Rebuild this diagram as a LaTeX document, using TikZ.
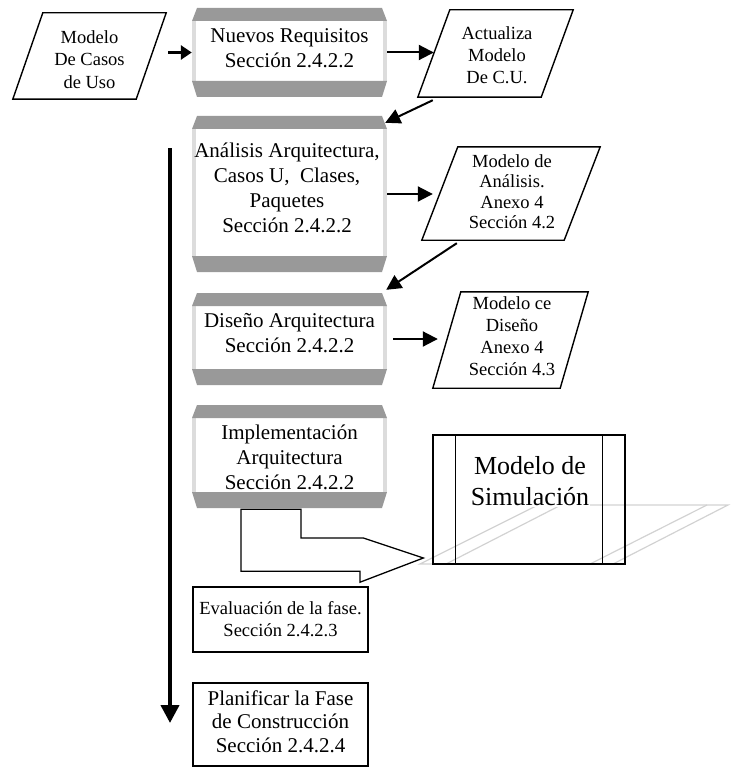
\documentclass[tikz,border=0pt]{standalone}
\usepackage{fontspec}
\setmainfont{Liberation Serif}
\usetikzlibrary{arrows.meta}
\definecolor{bandgray}{HTML}{999999}
\definecolor{sidegray}{HTML}{DCDCDC}
\definecolor{shadowgray}{HTML}{D2D2D2}

% outline of a slanted data box drawn round a named slot node
\newcommand\paraoutline[2]{%
  \draw[paraline] ([xshift=#2pt]#1.north west) -- (#1.north east)
    -- ([xshift=-#2pt]#1.south east) -- (#1.south west) -- cycle;}

\begin{document}
\begin{tikzpicture}[x=1pt,y=-1pt,
  bevelbox/.style={rectangle, inner sep=0pt, minimum width=195pt, minimum height=#1,
    path picture={
      \fill[sidegray] ([yshift=-13pt]path picture bounding box.north west)
        rectangle ([yshift=16pt]path picture bounding box.south east);
      \fill[white] ([xshift=4pt,yshift=-13pt]path picture bounding box.north west)
        rectangle ([xshift=-4pt,yshift=16pt]path picture bounding box.south east);
      \fill[bandgray] ([xshift=5pt]path picture bounding box.north west)
        -- ([xshift=-5pt]path picture bounding box.north east)
        -- ([yshift=-13pt]path picture bounding box.north east)
        -- ([yshift=-13pt]path picture bounding box.north west) -- cycle;
      \fill[bandgray] ([yshift=16pt]path picture bounding box.south west)
        -- ([yshift=16pt]path picture bounding box.south east)
        -- ([xshift=-5pt]path picture bounding box.south east)
        -- ([xshift=5pt]path picture bounding box.south west) -- cycle;
    }},
  slot/.style 2 args={rectangle, inner sep=0pt, minimum width=#1, minimum height=#2},
  paraline/.style={line width=1.4pt, line join=miter},
  boxtext/.style={align=center, inner sep=0pt, font=\fontsize{21}{25}\selectfont},
  paratext/.style={align=center, inner sep=0pt, font=\fontsize{18.5}{22}\selectfont},
  plainbox/.style={draw, line width=1.3pt, inner sep=0pt, align=center},
  link/.style={line width=2pt, -{Triangle[length=15pt,width=15pt]}},
]
\useasboundingbox (0,0) rectangle (734,773);

% ---- phase boxes with bevelled bands
\node[bevelbox=89pt]  (nuevos) at (289.5,52.5) {};
\node[boxtext] (nuevos-t) at (289.5,48) {Nuevos Requisitos\\Sección 2.4.2.2};

\node[bevelbox=156pt] (anal) at (289.5,194) {};
\node[boxtext] (anal-t) at (287,187.5) {Análisis Arquitectura,\\Casos U,\ \ Clases,\\Paquetes\\Sección 2.4.2.2};

\node[bevelbox=92pt]  (dis) at (289.5,339) {};
\node[boxtext] (dis-t) at (289.5,333.5) {Diseño Arquitectura\\Sección 2.4.2.2};

\node[bevelbox=103pt] (impl) at (289.5,456.5) {};
\node[boxtext] (impl-t) at (289.5,457) {Implementación\\Arquitectura\\Sección 2.4.2.2};

% ---- slanted data boxes
\node[slot={153pt}{86pt}] (mcu) at (89.5,56) {};
\paraoutline{mcu}{30}
\node[paratext, font=\fontsize{18.5}{22.5}\selectfont] (mcu-t) at (89.5,59.5) {Modelo\\De Casos\\de Uso};

\node[slot={155pt}{87pt}] (actu) at (495.5,53.5) {};
\paraoutline{actu}{32}
\node[paratext] (actu-t) at (497,55) {Actualiza\\Modelo\\De C.U.};

\node[slot={178pt}{93pt}] (pana) at (511,193.5) {};
\paraoutline{pana}{36}
\node[paratext, font=\fontsize{18.5}{20.5}\selectfont] (pana-t) at (512,191.5) {Modelo de\\Análisis.\\Anexo 4\\Sección 4.2};

\node[slot={155pt}{96pt}] (pdis) at (510.5,340) {};
\paraoutline{pdis}{28}
\node[paratext] (pdis-t) at (512,336) {Modelo ce\\Diseño\\Anexo 4\\Sección 4.3};

% ---- connectors between the boxes
\draw[line width=3.5pt, -{Triangle[length=11pt,width=14pt]}]
  ([xshift=2pt]mcu.east |- nuevos.west) -- (nuevos.west);
\draw[link] (nuevos.east) -- ([xshift=16pt]actu.west |- nuevos.east);
\draw[link] ([xshift=15pt,yshift=-3pt]actu.south west) -- ([xshift=-2pt,yshift=-7pt]anal.north east);
\draw[link] (anal.east) -- ([xshift=11pt]pana.west |- anal.east);
\draw[link] ([xshift=35pt,yshift=-3pt]pana.south west) -- ([xshift=-1pt,yshift=3pt]dis.north east);
\draw[link] ([xshift=6pt]dis.east) -- ([xshift=5pt]pdis.west |- dis.east);

% ---- long flow arrow on the left
\coordinate (flow-start) at (170,148);
\coordinate (flow-end) at (170,723);
\draw[line width=4pt, -{Triangle[length=18pt,width=18pt]}] (flow-start) -- (flow-end);

% ---- simulation model: ground plane lines, box, label
\draw[shadowgray, line width=1.2pt] (420,564) -- (538,505) -- (728,505) -- (613,564) -- cycle;
\draw[shadowgray, line width=1.2pt] (446,564) -- (561,505);
\draw[shadowgray, line width=1.2pt] (590,564) -- (707,505);
\node[slot={192pt}{129pt}, draw, line width=1.3pt] (sim) at (529,499.5) {};
\draw[line width=1.3pt] ([xshift=23pt]sim.north west) -- ([xshift=23pt]sim.south west);
\draw[line width=1.3pt] ([xshift=-23pt]sim.north east) -- ([xshift=-23pt]sim.south east);
\node[fill=white, inner sep=1pt, align=center, font=\fontsize{26}{31}\selectfont] (sim-t) at (530,481) {Modelo de\\Simulación};

% ---- hollow arrow from implementation to simulation
\draw[line width=1.3pt, line join=miter]
  ([xshift=-48.5pt,yshift=-1pt]impl.south) -- ++(0,62) -- ++(119,0) -- ++(0,11)
  -- ([xshift=-9pt]sim.west |- 0,558) -- ++(-60,-20) -- ++(0,0) coordinate (h-top)
  -- (h-top -| 301,0) -- ([xshift=11.5pt,yshift=-1pt]impl.south) -- cycle;

% ---- closing boxes
\node[plainbox, minimum width=175pt, minimum height=65pt] (eval) at (280.5,619.5) {};
\node[paratext] (eval-t) at (280.5,619) {Evaluación de la fase.\\Sección 2.4.2.3};

\node[plainbox, minimum width=175pt, minimum height=83pt] (plan) at (280.5,724.5) {};
\node[boxtext, font=\fontsize{21}{23.5}\selectfont] (plan-t) at (280.5,721.5) {Planificar la Fase\\de Construcción\\Sección 2.4.2.4};

\end{tikzpicture}
\end{document}
